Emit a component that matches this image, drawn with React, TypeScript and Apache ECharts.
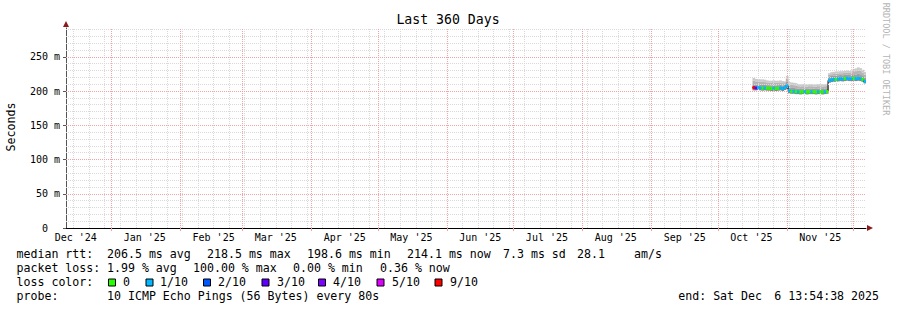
import React, { useEffect, useRef } from "react";
import * as echarts from "echarts";

const DAY = 86400000;
const RANGE_START = Date.UTC(2024, 11, 11, 13, 54, 38);
const RANGE_END = Date.UTC(2025, 11, 6, 13, 54, 38);
const FIRST_SAMPLE = Date.UTC(2025, 9, 16, 12, 0, 0);

// month label positions (month index pairs) and their texts
const labelMonths: [number, number][] = [
  [2024, 11], [2025, 0], [2025, 1], [2025, 2], [2025, 3], [2025, 4],
  [2025, 5], [2025, 6], [2025, 7], [2025, 8], [2025, 9], [2025, 10],
];
const monthLabels = [
  "Dec '24", "Jan '25", "Feb '25", "Mar '25", "Apr '25", "May '25",
  "Jun '25", "Jul '25", "Aug '25", "Sep '25", "Oct '25", "Nov '25",
];
const majorMonths: [number, number][] = [
  [2025, 0], [2025, 1], [2025, 2], [2025, 3], [2025, 4], [2025, 5],
  [2025, 6], [2025, 7], [2025, 8], [2025, 9], [2025, 10], [2025, 11],
];

const yTickValues = [0, 50, 100, 150, 200, 250];
const yTickLabels = ["0", "50 m", "100 m", "150 m", "200 m", "250 m"];

// daily samples from Oct 16 2025 (ms)
const median = [
  205.0, 204.5, 205.0, 204.5, 204.0, 204.5, 204.0, 204.0, 203.5, 204.0,
  203.5, 204.0, 204.5, 203.5, 205.0, 207.5, 200.5, 199.5, 199.5, 199.0,
  198.8, 198.6, 198.8, 199.0, 198.6, 198.8, 199.0, 198.8, 198.6, 199.0,
  198.8, 198.6, 199.0, 199.2, 215.5, 216.5, 217.0, 217.0, 217.5, 218.0,
  217.5, 218.0, 218.5, 218.0, 218.0, 218.5, 218.0, 218.5, 218.0, 217.0,
  214.1,
];
const smokeMin = [
  201, 201, 201.5, 201, 200.5, 201, 200.5, 200.5, 200, 200.5,
  200, 200.5, 201, 200, 201.5, 203, 196.5, 196, 196, 195.5,
  195.5, 195, 195.5, 195.5, 195, 195.5, 195.5, 195.5, 195, 195.5,
  195.5, 195, 195.5, 196, 212, 213, 213.5, 213.5, 214, 214.5,
  214, 214.5, 215, 214.5, 214.5, 215, 214.5, 215, 214.5, 213.5,
  211,
];
const smokeP70 = [
  210, 209.5, 209.5, 209, 209, 209, 208.5, 208.5, 208, 208.5,
  208, 208.5, 209, 208, 209, 214, 205.5, 204.5, 204.5, 204,
  203.5, 203, 203.5, 203.5, 203, 203.5, 203.5, 203.5, 203, 203.5,
  203.5, 203, 203.5, 204, 221, 222, 222.5, 222.5, 223, 223.5,
  223, 223.5, 224, 223.5, 223.5, 224.5, 224, 225, 224.5, 223,
  220,
];
const smokeP90 = [
  215, 214, 214, 213.5, 213.5, 213, 212.5, 212, 212, 212.5,
  212, 212, 212.5, 211.5, 211.5, 218, 209.5, 209, 208.5, 208,
  207, 206.5, 207, 206.5, 206.5, 207, 207, 206.5, 206.5, 207,
  207, 206.5, 207, 207.5, 223.5, 224.5, 225, 225.5, 225.5, 226,
  226, 226.5, 227, 226.5, 227, 228.5, 229, 230, 229.5, 227,
  224,
];
const smokeMax = [
  219, 217.5, 217.5, 217, 217, 216.5, 215.5, 215, 215, 215.5,
  215, 215, 215.5, 214.5, 214, 222, 213, 212.5, 212, 211.5,
  210, 209.5, 210, 209.5, 209.5, 210, 210, 209.5, 209.5, 210,
  210, 209.5, 210, 210.5, 226, 227.5, 228, 228.5, 228.5, 229,
  229, 229.5, 230, 229.5, 230, 232, 233, 234.5, 233.5, 231,
  228,
];
// lost pings out of 10
const lossCount = [
  9, 3, 1, 1, 0, 1, 0, 0, 0, 1,
  0, 0, 1, 1, 1, 1, 1, 0, 1, 0,
  1, 0, 0, 1, 0, 0, 1, 0, 0, 1,
  0, 0, 1, 0, 1, 1, 1, 0, 1, 1,
  1, 0, 1, 1, 1, 0, 1, 1, 1, 0,
  1,
];

const lossLegendLabels = ["0", "1/10", "2/10", "3/10", "4/10", "5/10", "9/10"];
const lossLegendColors = ["#26ff00", "#00b8ff", "#0059ff", "#5e00ff", "#7e00ff", "#dd00ff", "#ff0000"];
const lossColorFor = (n: number) => {
  if (n <= 0) return lossLegendColors[0];
  if (n === 1) return lossLegendColors[1];
  if (n === 2) return lossLegendColors[2];
  if (n === 3) return lossLegendColors[3];
  if (n === 4) return lossLegendColors[4];
  if (n <= 8) return lossLegendColors[5];
  return lossLegendColors[6];
};

const rttStats = ["206.5 ms avg", "218.5 ms max", "198.6 ms min", "214.1 ms now", "7.3 ms sd", "28.1", "am/s"];
const lossStats = ["1.99 % avg", "100.00 % max", "0.00 % min", "0.36 % now"];
const probeText = "10 ICMP Echo Pings (56 Bytes) every 80s";
const endTextA = "end: Sat Dec";
const endTextB = "6 13:54:38 2025";

const MONO = '"DejaVu Sans Mono", "Liberation Mono", monospace';

export default function App() {
  const ref = useRef<HTMLDivElement>(null);
  useEffect(() => {
    if (!ref.current) return;
    const chart = echarts.init(ref.current, null, { renderer: "svg" });

    const sampleTimes = median.map((_, i) => FIRST_SAMPLE + i * DAY);
    const labelTimes = labelMonths.map(([y, m]) => Date.UTC(y, m, 1) + 15 * DAY);
    const majorTimes = majorMonths.map(([y, m]) => Date.UTC(y, m, 1)).filter((t) => t < RANGE_END);
    const weekTimes: number[] = [];
    for (let t = Date.UTC(2024, 11, 15); t < RANGE_END; t += 7 * DAY) weekTimes.push(t);
    const minorY: number[] = [];
    for (let v = 10; v < 292; v += 10) if (v % 50 !== 0) minorY.push(v);

    const gridSeries = (data: any[], color: string, z: number) => ({
      type: "line",
      data: [],
      z,
      silent: true,
      markLine: {
        silent: true,
        symbol: ["none", "none"],
        label: { show: false },
        emphasis: { disabled: true },
        lineStyle: { color, width: 1, type: [1, 1] },
        data,
      },
    });

    const smokeData = sampleTimes.map((t, i) => [t, smokeMin[i], median[i], smokeP70[i], smokeP90[i], smokeMax[i]]);
    const lossData = sampleTimes.map((t, i) => [t, median[i], lossCount[i]]);
    const lineData: number[][] = sampleTimes.map((t, i) => [t, median[i]]);
    lineData.push([RANGE_END, median[median.length - 1]]);

    const text = (x: number, y: number, s: string, size = 11.6, extra: any = {}) => ({
      type: "text",
      x,
      y,
      silent: true,
      ...extra,
      style: {
        text: s,
        fill: extra.fill || "#000",
        fontSize: size,
        fontFamily: MONO,
        align: extra.align || "left",
        textAlign: extra.align || "left",
        verticalAlign: "middle",
        textVerticalAlign: "middle",
      },
    });

    const rttX = [107, 207, 307, 407, 503, 577, 634];
    const lossX = [107, 193, 293, 380];
    const sqX = [108.5, 146, 203.5, 262, 318.5, 377, 435];
    const sqLabelX = [123, 160, 218, 277, 333, 392, 450];

    const graphics: any[] = [
      text(448, 19.5, "Last 360 Days", 13.2, { align: "center" }),
      text(11, 127, "Seconds", 11.6, { align: "center", rotation: Math.PI / 2 }),
      text(886, 59, "RRDTOOL / TOBI OETIKER", 8.5, { align: "center", rotation: -Math.PI / 2, fill: "#b4b4b4" }),
      text(16.5, 254, "median rtt:"),
      ...rttStats.map((s, i) => text(rttX[i], 254, s)),
      text(16.5, 268, "packet loss:"),
      ...lossStats.map((s, i) => text(lossX[i], 268, s)),
      text(16.5, 282, "loss color:"),
      ...lossLegendLabels.map((s, i) => text(sqLabelX[i], 282, s)),
      ...lossLegendColors.map((c, i) => ({
        type: "rect",
        silent: true,
        shape: { x: sqX[i], y: 279, width: 7, height: 7 },
        style: { fill: c, stroke: "#000", lineWidth: 1 },
      })),
      text(16.5, 296, "probe:"),
      text(107, 296, probeText),
      text(762, 296, endTextA, 11.6, { align: "right" }),
      text(879, 296, endTextB, 11.6, { align: "right" }),
      {
        type: "polygon",
        silent: true,
        shape: { points: [[63, 27], [69, 27], [66, 21]] },
        style: { fill: "#8b1a1a" },
      },
      {
        type: "polygon",
        silent: true,
        shape: { points: [[867, 225], [867, 231], [873, 228]] },
        style: { fill: "#8b1a1a" },
      },
    ];

    chart.setOption({
      animation: false,
      backgroundColor: "#fff",
      grid: { left: 66, top: 28, width: 800, height: 200 },
      xAxis: {
        type: "value",
        min: RANGE_START,
        max: RANGE_END,
        splitLine: { show: false },
        axisLine: { show: true, lineStyle: { color: "#000", width: 1 } },
        axisTick: { show: true, customValues: majorTimes, length: 3, lineStyle: { color: "#f0a0a0" } },
        axisLabel: {
          customValues: labelTimes,
          margin: 4,
          fontSize: 10,
          fontFamily: MONO,
          color: "#000",
          formatter: (v: number) => {
            const idx = labelTimes.indexOf(v);
            return idx >= 0 ? monthLabels[idx] : "";
          },
        },
      },
      yAxis: {
        type: "value",
        min: 0,
        max: 292,
        interval: 50,
        splitLine: { show: false },
        axisLine: { show: true, lineStyle: { color: "#555", width: 1 } },
        axisTick: { show: true, customValues: yTickValues, length: 3, lineStyle: { color: "#555" } },
        axisLabel: {
          customValues: yTickValues,
          margin: 6,
          fontSize: 10,
          fontFamily: MONO,
          color: "#000",
          formatter: (v: number) => {
            const idx = yTickValues.indexOf(v);
            if (idx < 0) return "";
            return v === 0 ? "{z|" + yTickLabels[idx] + "}" : yTickLabels[idx];
          },
          rich: {
            z: { fontSize: 10, fontFamily: MONO, color: "#000", padding: [0, 12, 0, 0] },
          },
        },
      },
      series: [
        gridSeries(weekTimes.map((t) => ({ xAxis: t })).concat(minorY.map((v) => ({ yAxis: v })) as any), "#d9d9d9", 1),
        gridSeries(majorTimes.map((t) => ({ xAxis: t })).concat(yTickValues.filter((v) => v > 0).map((v) => ({ yAxis: v })) as any), "#f2a4a4", 2),
        {
          type: "custom",
          z: 3,
          clip: true,
          silent: true,
          data: smokeData,
          encode: { x: 0, y: [1, 5] },
          renderItem: (params: any, api: any) => {
            const t = api.value(0);
            const x0 = api.coord([t, 0])[0];
            const x1 = api.coord([Math.min(t + DAY, RANGE_END), 0])[0];
            const yy = (v: number) => api.coord([t, v])[1];
            const band = (a: number, b: number, fill: string) => ({
              type: "rect",
              shape: { x: x0, y: yy(b), width: x1 - x0 + 0.5, height: yy(a) - yy(b) },
              style: { fill },
            });
            return {
              type: "group",
              children: [
                band(api.value(1), api.value(2), "#858585"),
                band(api.value(2), api.value(3), "#9e9e9e"),
                band(api.value(3), api.value(4), "#b4b4b4"),
                band(api.value(4), api.value(5), "#cbcbcb"),
              ],
            };
          },
        },
        {
          type: "line",
          z: 4,
          step: "end",
          silent: true,
          symbol: "none",
          data: lineData,
          lineStyle: { color: "#000", width: 1 },
        },
        {
          type: "custom",
          z: 5,
          clip: true,
          silent: true,
          data: lossData,
          encode: { x: 0, y: 1 },
          renderItem: (params: any, api: any) => {
            const t = api.value(0);
            const x0 = api.coord([t, 0])[0];
            const x1 = api.coord([Math.min(t + DAY, RANGE_END), 0])[0];
            const y = api.coord([t, api.value(1)])[1];
            return {
              type: "rect",
              shape: { x: x0, y: y - 1.5, width: x1 - x0 + 0.3, height: 3 },
              style: { fill: lossColorFor(api.value(2)) },
            };
          },
        },
      ],
      graphic: graphics,
    });

    return () => chart.dispose();
  }, []);

  return (
    <div
      ref={ref}
      style={{ position: "fixed", left: 0, top: 0, width: 897, height: 310, background: "#fff" }}
    />
  );
}
